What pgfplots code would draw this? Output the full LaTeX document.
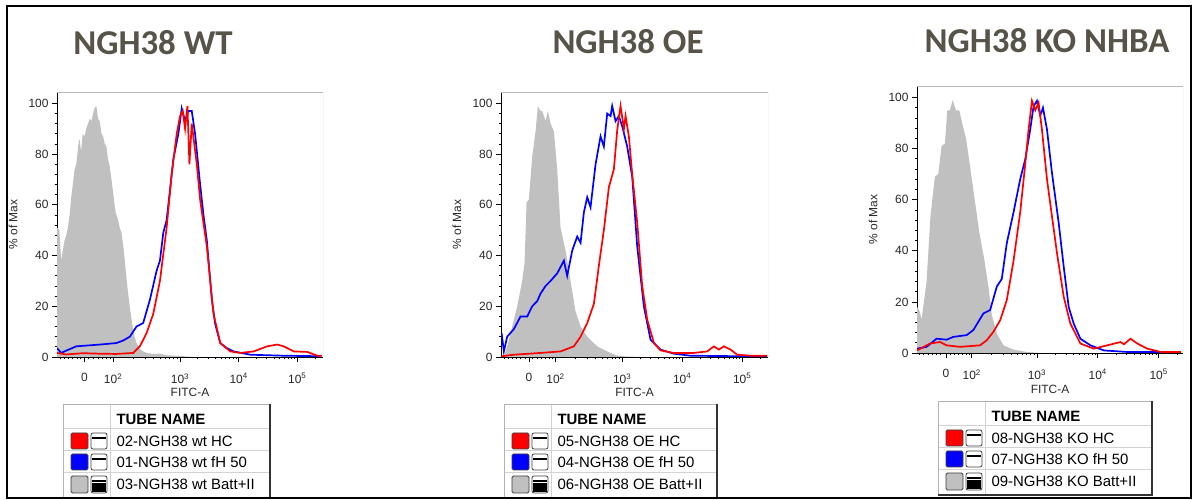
\documentclass[border=0pt]{standalone}
\usepackage{pgfplots}
\pgfplotsset{compat=1.18}
\usepackage{fontspec}
\setmainfont{Liberation Sans}
\newfontfamily\titlefont{Carlito}
\definecolor{histgray}{RGB}{192,192,192}
\definecolor{titlecol}{RGB}{87,83,72}
\definecolor{labcol}{RGB}{40,40,40}
\definecolor{fred}{RGB}{255,0,0}
\definecolor{fblue}{RGB}{0,0,255}

\pgfplotsset{flowax/.style={
 scale only axis, width=266bp, height=265bp,
 ymin=0, ymax=104.5,
 axis lines=left, axis line style={-, black, line width=0.9bp},
 tick align=outside, tick style={black, line width=0.7bp},
 major tick length=5bp, minor tick length=2.5bp,
 ytick={0,20,40,60,80,100}, yticklabels={0,20,40,60,80,100}, minor y tick num=4,
 xticklabels={0,10\textsuperscript{2},10\textsuperscript{3},10\textsuperscript{4},10\textsuperscript{5}},
 tick label style={font=\fontsize{12}{13}\selectfont, text=labcol},
 xticklabel style={yshift=-8bp},
 ylabel={\% of Max}, xlabel={FITC-A},
 label style={font=\fontsize{12}{14}\selectfont, text=labcol},
 ylabel style={at={(axis description cs:-0.165,0.5)}, anchor=center},
 xlabel style={at={(axis description cs:0.5,-0.135)}, anchor=center},
 every axis plot/.append style={line width=1.7bp},
}}

\newcommand{\graybox}{\draw[gray!55, line width=0.8bp] (rel axis cs:0,1) -- (rel axis cs:1,1) -- (rel axis cs:1,0);}

% #1 left, #2 right, #3 top (image y), #4 #5 #6 row labels
\newcommand{\tubetable}[6]{%
\begin{scope}[shift={(0,500)}, yscale=-1]
  \fill[white] (#1,#3) rectangle (#2,#3+94);
  \draw[gray!35, line width=0.8] (#1,#3+24) -- (#2,#3+24) (#1,#3+46) -- (#2,#3+46) (#1,#3+68) -- (#2,#3+68);
  \draw[gray!35, line width=0.8] (#1+47,#3) -- (#1+47,#3+94);
  \draw[gray!60, line width=0.9] (#1,#3+94) -- (#1,#3) -- (#2,#3);
  \draw[gray!40!black, line width=1.3] (#2,#3) -- (#2,#3+94) -- (#1,#3+94);
  \node[anchor=west, font=\bfseries\fontsize{15}{17}\selectfont] at (#1+50,#3+15) {TUBE NAME};
  % row 1 red
  \draw[gray!50!black, fill=fred, rounded corners=1.5, line width=0.8] (#1+8,#3+29) rectangle (#1+25,#3+45);
  \draw[gray!50!black, fill=white, rounded corners=2, line width=0.8] (#1+28,#3+29) rectangle (#1+44,#3+45);
  \draw[black, line width=1.8] (#1+29,#3+34) -- (#1+43,#3+34);
  \node[anchor=west, font=\fontsize{15}{17}\selectfont] at (#1+50,#3+37) {#4};
  % row 2 blue
  \draw[gray!50!black, fill=fblue, rounded corners=1.5, line width=0.8] (#1+8,#3+50) rectangle (#1+25,#3+66);
  \draw[gray!50!black, fill=white, rounded corners=2, line width=0.8] (#1+28,#3+50) rectangle (#1+44,#3+66);
  \draw[black, line width=1.8] (#1+29,#3+55) -- (#1+43,#3+55);
  \node[anchor=west, font=\fontsize{15}{17}\selectfont] at (#1+50,#3+58) {#5};
  % row 3 gray
  \draw[gray!50!black, fill=histgray, rounded corners=1.5, line width=0.8] (#1+8,#3+72) rectangle (#1+25,#3+89);
  \draw[gray!50!black, fill=white, rounded corners=2, line width=0.8] (#1+28,#3+72) rectangle (#1+44,#3+89);
  \fill[black] (#1+29,#3+79) rectangle (#1+43,#3+88);
  \draw[black, line width=1.5] (#1+29,#3+77) -- (#1+43,#3+77);
  \node[anchor=west, font=\fontsize{15}{17}\selectfont] at (#1+50,#3+80) {#6};
\end{scope}}

\begin{document}
\begin{tikzpicture}[x=1bp,y=1bp]
\path[use as bounding box] (0,0) rectangle (1197,500);
\fill[white] (0,0) rectangle (1197,500);

% ---------------- Panel 1: NGH38 WT ----------------
\begin{axis}[flowax, at={(57bp,143bp)}, anchor=south west,
  xmin=0.9, xmax=5.44,
  xtick={1.37,1.857,3,4,5},
  minor xtick={0.95,1.03,1.1,1.17,1.24,1.3,1.44,1.52,1.6,1.68,1.75,1.81,2.201,2.402,2.545,2.656,2.746,2.823,2.889,2.948,3.301,3.477,3.602,3.699,3.778,3.845,3.903,3.954,4.301,4.477,4.602,4.699,4.778,4.845,4.903,4.954,5.301}]
\graybox
\addplot[fill=histgray, draw=none] coordinates {
(0.9,0) (0.9,51) (0.94,50) (0.971,38) (1.0,42) (1.029,46) (1.06,48) (1.086,51) (1.115,56) (1.143,63) (1.17,68) (1.2,74) (1.23,76) (1.26,83) (1.286,86) (1.31,81) (1.34,88) (1.371,87) (1.40,90) (1.429,92) (1.46,94) (1.49,93) (1.514,96) (1.54,98) (1.571,99) (1.60,94) (1.629,93) (1.66,88) (1.686,87) (1.715,84) (1.743,83) (1.77,78) (1.8,75) (1.83,70) (1.857,65) (1.9,57) (1.943,54) (1.97,51) (2.0,49) (2.03,44) (2.057,38) (2.086,31) (2.114,25) (2.14,20) (2.171,15) (2.21,9) (2.257,5.5) (2.31,3.2) (2.37,2.2) (2.45,1.5) (2.54,1.2) (2.65,1.3) (2.77,0.7) (2.9,0.5) (3.06,0.3) (3.2,0)
} \closedcycle;
\addplot[fblue] coordinates {
(0.9,3.5) (0.971,1.6) (1.057,2.5) (1.229,4.2) (1.4,4.5) (1.629,4.9) (1.914,5.5) (2.029,6.5) (2.143,8) (2.257,12) (2.371,13.4) (2.486,22.6) (2.6,34) (2.657,38) (2.714,49) (2.771,54) (2.829,66) (2.886,78) (2.971,88) (3.029,98) (3.086,93) (3.143,97) (3.2,97) (3.257,88) (3.343,68) (3.4,56) (3.457,46) (3.543,22.6) (3.6,13) (3.686,5.5) (3.8,3.5) (3.914,2.2) (4.2,0.9) (4.771,0.5) (5.4,0.3)
};
\addplot[fred] coordinates {
(0.9,1.6) (1.057,1.0) (1.343,1.5) (1.629,1.3) (1.914,1.2) (2.2,1.6) (2.314,4.2) (2.429,9.4) (2.543,17) (2.657,30) (2.771,51) (2.857,72) (2.943,88) (3.0,95) (3.046,97) (3.086,90) (3.126,99) (3.16,76) (3.2,92) (3.286,76) (3.343,62) (3.457,43.6) (3.571,17) (3.686,5.5) (3.857,2.2) (4.029,1.6) (4.257,2.2) (4.486,4.2) (4.657,4.9) (4.771,4.2) (4.943,2.2) (5.171,2.0) (5.343,0.5) (5.42,0.5)
};
\end{axis}

% ---------------- Panel 2: NGH38 OE ----------------
\begin{axis}[flowax, at={(501bp,143bp)}, anchor=south west, width=267bp,
  xmin=0.98, xmax=5.43,
  xtick={1.444,1.889,3,4,5},
  minor xtick={1.03,1.1,1.17,1.24,1.31,1.38,1.51,1.58,1.65,1.72,1.78,1.84,2.223,2.419,2.558,2.665,2.754,2.828,2.892,2.949,3.301,3.477,3.602,3.699,3.778,3.845,3.903,3.954,4.301,4.477,4.602,4.699,4.778,4.845,4.903,4.954,5.301}]
\graybox
\addplot[fill=histgray, draw=none] coordinates {
(1.028,0) (1.083,4.2) (1.167,12) (1.25,20) (1.333,30) (1.372,37) (1.406,61) (1.444,62) (1.5,79) (1.556,89) (1.594,99) (1.639,97) (1.667,97) (1.722,93) (1.761,97) (1.806,92) (1.861,89) (1.917,74) (1.972,51) (2.056,42) (2.139,30) (2.222,18) (2.306,12) (2.417,8) (2.583,4.2) (2.75,2.2) (2.917,0.5) (3.083,0.2) (3.3,0)
} \closedcycle;
\addplot[fblue] coordinates {
(0.99,9.4) (1.028,2.2) (1.083,8) (1.194,11) (1.306,16) (1.417,16) (1.5,20) (1.583,22) (1.639,25) (1.722,28) (1.806,30) (1.917,33) (2.028,38) (2.083,32) (2.167,42) (2.25,47.5) (2.306,45) (2.361,57) (2.417,63) (2.472,59) (2.556,76) (2.639,87) (2.694,83) (2.75,96) (2.806,95) (2.833,99) (2.889,93) (2.944,95) (3.0,91) (3.083,83) (3.167,71) (3.25,43.6) (3.361,20) (3.472,6.8) (3.639,2.9) (3.861,1.3) (4.139,0.5) (4.972,0.3) (5.417,0.3)
};
\addplot[fred] coordinates {
(0.99,0.3) (1.194,0.9) (1.639,1.6) (1.972,2.2) (2.194,4.2) (2.306,8) (2.417,13.4) (2.528,21) (2.611,36) (2.694,50) (2.778,67) (2.861,74) (2.917,89.5) (2.972,99) (3.028,90) (3.056,95) (3.111,87) (3.167,72) (3.25,53) (3.333,28) (3.417,14.7) (3.528,5.5) (3.639,2.6) (3.861,1.6) (4.194,1.6) (4.417,2.2) (4.528,4.2) (4.611,2.9) (4.694,4.2) (4.806,2.9) (4.917,0.9) (5.139,0.5) (5.417,0.5)
};
\end{axis}

% ---------------- Panel 3: NGH38 KO NHBA ----------------
\begin{axis}[flowax, at={(917bp,147bp)}, anchor=south west, height=267bp,
  xmin=1.03, xmax=5.40,
  xtick={1.505,1.93,3,4,5},
  minor xtick={1.07,1.14,1.21,1.28,1.35,1.42,1.57,1.64,1.71,1.78,1.84,1.89,2.252,2.441,2.574,2.678,2.763,2.834,2.896,2.951,3.301,3.477,3.602,3.699,3.778,3.845,3.903,3.954,4.301,4.477,4.602,4.699,4.778,4.845,4.903,4.954,5.301}]
\graybox
\addplot[fill=histgray, draw=none] coordinates {
(1.033,0) (1.033,18) (1.077,16) (1.104,13) (1.143,20) (1.187,28) (1.253,54) (1.29,62) (1.324,69) (1.379,70) (1.434,81) (1.489,82) (1.527,95) (1.571,95) (1.615,99) (1.67,95) (1.725,95) (1.78,89) (1.835,84) (1.901,73) (1.984,59) (2.055,47) (2.132,37) (2.203,26) (2.258,15) (2.341,7.6) (2.451,3) (2.615,1.3) (2.835,0.4) (3.055,0)
} \closedcycle;
\addplot[fblue] coordinates {
(1.033,1.7) (1.187,2.4) (1.352,5.6) (1.516,5.2) (1.626,6.3) (1.846,7) (1.956,9) (2.121,15.5) (2.231,16.8) (2.341,26) (2.423,29) (2.505,43) (2.615,55) (2.725,68) (2.808,75.8) (2.89,87.5) (2.945,96.6) (3.0,98.7) (3.055,93) (3.099,96) (3.165,87.5) (3.247,70.5) (3.357,51) (3.44,33.8) (3.522,18) (3.604,11.5) (3.714,5.6) (3.879,3) (4.099,1) (4.484,0.4) (5.363,0.4)
};
\addplot[fred] coordinates {
(1.033,1) (1.242,3.7) (1.407,4.3) (1.516,3) (1.736,2.4) (2.066,3) (2.176,5) (2.286,8.3) (2.396,12.8) (2.505,20.7) (2.615,36) (2.725,55) (2.808,74) (2.863,87.5) (2.918,98.7) (2.973,95) (3.027,98) (3.082,87.5) (3.165,68) (3.247,53.5) (3.33,39) (3.44,22) (3.549,11.5) (3.714,3.7) (3.934,1.7) (4.154,3) (4.374,4.3) (4.429,3.4) (4.538,5.6) (4.648,3.7) (4.813,1.7) (5.033,0.4) (5.363,0.4)
};
\end{axis}

% titles
\node[font=\titlefont\bfseries\fontsize{35}{40}\selectfont, text=titlecol] at (153,457) {NGH38 WT};
\node[font=\titlefont\bfseries\fontsize{35}{40}\selectfont, text=titlecol] at (628,458) {NGH38 OE};
\node[font=\titlefont\bfseries\fontsize{35}{40}\selectfont, text=titlecol] at (1047,459) {NGH38 KO NHBA};

% legend tables
\tubetable{63}{270}{404}{02-NGH38 wt HC}{01-NGH38 wt fH 50}{03-NGH38 wt Batt+II}
\tubetable{504}{717}{404}{05-NGH38 OE HC}{04-NGH38 OE fH 50}{06-NGH38 OE Batt+II}
\tubetable{938}{1152}{401}{08-NGH38 KO HC}{07-NGH38 KO fH 50}{09-NGH38 KO Batt+II}

% outer frame
\draw[black, line width=2.2] (7,2) rectangle (1191,494);
\end{tikzpicture}
\end{document}
